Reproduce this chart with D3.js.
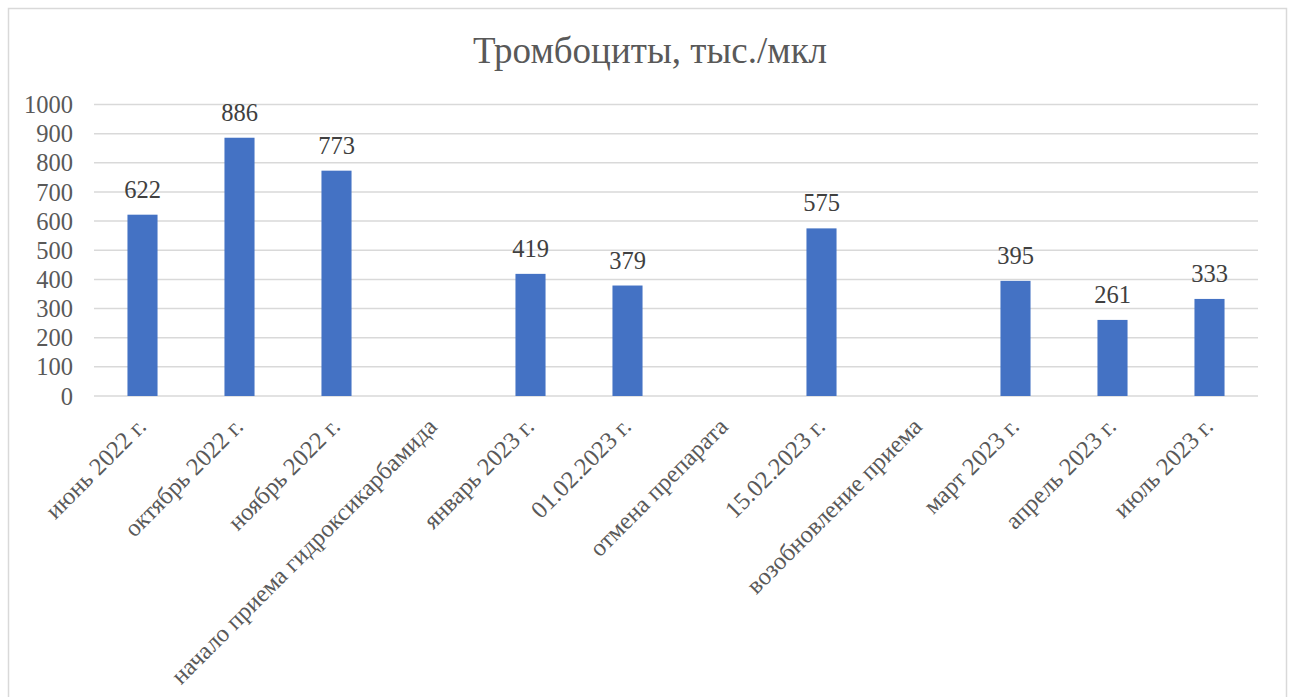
<!DOCTYPE html>
<html lang="ru">
<head>
  <meta charset="utf-8">
  <script src="https://cdn.jsdelivr.net/npm/d3@7"></script>
  <title>Тромбоциты</title>
  <style>
    body { margin: 0; background: #fff; }
  </style>
</head>
<body>
<div id="chart"></div>
<script>
  // данные
  var categories = ["июнь 2022 г.", "октябрь 2022 г.", "ноябрь 2022 г.", "начало приема гидроксикарбамида",
    "январь 2023 г.", "01.02.2023 г.", "отмена препарата", "15.02.2023 г.", "возобновление приема",
    "март 2023 г.", "апрель 2023 г.", "июль 2023 г."];
  var values = [622, 886, 773, null, 419, 379, null, 575, null, 395, 261, 333];
  var yTicks = [0, 100, 200, 300, 400, 500, 600, 700, 800, 900, 1000];
  var title = "Тромбоциты, тыс./мкл";

  var width = 1291, height = 697;
  var plot = { left: 94, right: 1258, top: 104.5, bottom: 396 };
  var serif = "'Liberation Serif', 'Times New Roman', serif";
  var fs = 24.5;

  var svg = d3.select("#chart").append("svg")
    .attr("width", width).attr("height", height)
    .attr("font-family", serif);

  // рамка области диаграммы
  svg.append("rect")
    .attr("x", 8.5).attr("y", 8.5)
    .attr("width", 1278).attr("height", 720)
    .attr("fill", "#fff").attr("stroke", "#d9d9d9").attr("stroke-width", 1.5);

  svg.append("text")
    .attr("x", 650).attr("y", 63)
    .attr("text-anchor", "middle")
    .attr("font-family", serif).attr("font-size", 37).attr("fill", "#595959")
    .text(title);

  var x = d3.scaleBand().domain(categories).range([plot.left, plot.right]).paddingInner(0.69).paddingOuter(0.345);
  var y = d3.scaleLinear().domain([0, 1000]).range([plot.bottom, plot.top]);

  // сетка
  svg.append("g").selectAll("line").data(yTicks).enter().append("line")
    .attr("x1", plot.left).attr("x2", plot.right)
    .attr("y1", function (d) { return y(d); }).attr("y2", function (d) { return y(d); })
    .attr("stroke", "#d9d9d9").attr("stroke-width", 1.5);

  // подписи оси Y
  svg.append("g").selectAll("text").data(yTicks).enter().append("text")
    .attr("x", 73).attr("y", function (d) { return y(d); })
    .attr("dy", "0.35em")
    .attr("text-anchor", "end")
    .attr("font-family", serif).attr("font-size", fs).attr("fill", "#595959")
    .text(function (d) { return d; });

  var data = categories.map(function (c, i) { return { cat: c, v: values[i] }; });
  var filled = data.filter(function (d) { return d.v !== null; });

  // столбцы
  svg.append("g").selectAll("rect").data(filled).enter().append("rect")
    .attr("x", function (d) { return x(d.cat); })
    .attr("y", function (d) { return y(d.v); })
    .attr("width", x.bandwidth())
    .attr("height", function (d) { return y(0) - y(d.v); })
    .attr("fill", "#4472c4");

  // подписи значений
  svg.append("g").selectAll("text").data(filled).enter().append("text")
    .attr("x", function (d) { return x(d.cat) + x.bandwidth() / 2; })
    .attr("y", function (d) { return y(d.v) - 17; })
    .attr("text-anchor", "middle")
    .attr("font-family", serif).attr("font-size", fs).attr("fill", "#404040")
    .text(function (d) { return d.v; });

  // подписи категорий
  svg.append("g").selectAll("text").data(categories).enter().append("text")
    .attr("transform", function (d) {
      return "translate(" + (x(d) + x.bandwidth() / 2 + 5) + ",428) rotate(-45)";
    })
    .attr("text-anchor", "end")
    .attr("font-family", serif).attr("font-size", fs).attr("fill", "#595959")
    .text(function (d) { return d; });
</script>
</body>
</html>
